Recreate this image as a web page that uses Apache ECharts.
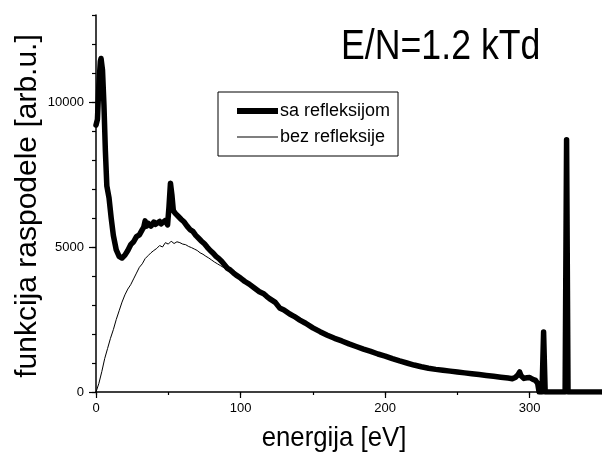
<!DOCTYPE html>
<html>
<head>
<meta charset="utf-8">
<title>funkcija raspodele</title>
<script src="https://cdn.jsdelivr.net/npm/echarts@6/dist/echarts.min.js"></script>
<style>
  html, body { margin: 0; padding: 0; background: #fff; }
  #chart { width: 602px; height: 453px; }
</style>
</head>
<body>
<div id="chart"></div>
<script>
// energija [eV] / counts, sa refleksijom (thick curve)
var energySa = [
  0, 1, 2, 3, 3.5, 4.5, 5.5, 6.5, 7.5, 9,
  10.5, 12, 14, 16, 18, 20, 22, 24, 26, 28,
  30, 32, 33, 34, 35, 36, 37, 38, 40, 41,
  42, 44, 45, 46, 48, 49.5, 50.5, 51.5, 52.5, 53.5,
  55, 57, 58, 59, 61, 63, 64, 65, 67, 69,
  70, 71, 73, 75, 76, 77, 79, 81, 82, 83,
  85, 87, 88, 89, 91, 93, 95, 97, 100, 103,
  106, 110, 113, 116, 117, 118, 120, 124, 127, 130,
  134, 137, 141, 145, 150, 155, 160, 165, 170, 175,
  180, 185, 190, 195, 200, 205, 210, 215, 220, 225,
  230, 235, 240, 245, 250, 255, 260, 265, 270, 275,
  280, 285, 288, 290, 292, 293, 294, 296, 298, 300,
  302, 304, 305.5, 306.5, 308.5, 309.6, 310.7, 324.5, 325.5, 326.5,
  350
];
var countsSa = [
  9200, 9400, 10600, 11400, 11500, 11100, 9900, 8300, 7100, 6700,
  6000, 5400, 4900, 4680, 4620, 4720, 4880, 5080, 5180, 5360,
  5420, 5600, 5680, 5900, 5720, 5820, 5760, 5720, 5860, 5780,
  5840, 5880, 5800, 5860, 5920, 5760, 6400, 7200, 6800, 6250,
  6150, 6050, 6100, 5950, 5860, 5720, 5760, 5600, 5540, 5400,
  5420, 5300, 5200, 5110, 5140, 4990, 4880, 4790, 4820, 4680,
  4600, 4500, 4520, 4380, 4260, 4200, 4110, 4030, 3930, 3810,
  3720, 3570, 3460, 3390, 3350, 3300, 3220, 3090, 2900, 2830,
  2690, 2610, 2480, 2370, 2210, 2080, 1960, 1850, 1760, 1660,
  1570, 1480, 1400, 1310, 1240, 1150, 1070, 1000, 930, 870,
  820, 780, 750, 720, 690, 660, 630, 600, 570, 540,
  510, 480, 460, 500, 600, 690, 560, 470, 490, 500,
  440, 400, 300, 0, 0, 2070, 0, 0, 8700, 0,
  0
];

// bez refleksije (thin curve), low-energy part; above 95 eV it runs under the thick one
var energyBez = [
  0, 2, 4, 6, 8, 10, 12, 14, 16, 18,
  20, 22, 24, 26, 28, 30, 32, 34, 36, 38,
  40, 42, 44, 46, 48, 50, 52, 54, 56, 58,
  60, 62, 64, 66, 68, 70, 72, 74, 76, 78,
  80, 82, 84, 86, 88, 90, 92, 95
];
var countsBez = [
  0, 300, 700, 1150, 1500, 1850, 2150, 2500, 2800, 3100,
  3350, 3550, 3700, 3900, 4100, 4300, 4420, 4600, 4700, 4800,
  4880, 4950, 5050, 5000, 5150, 5100, 5200, 5120, 5180, 5150,
  5100, 5080, 5020, 4980, 4930, 4880, 4800, 4750, 4680, 4620,
  4550, 4480, 4420, 4360, 4300, 4240, 4180, 4100
];

var xTicks = [0, 100, 200, 300];
var yTicks = [0, 5000, 10000];

var FONT = '"Liberation Sans", Arial, sans-serif';

var dataSa = energySa.map(function (e, i) { return [e, countsSa[i]]; });
var dataBez = energyBez.map(function (e, i) { return [e, countsBez[i]]; });
for (var i = 0; i < energySa.length; i++) {
  if (energySa[i] > 95 && energySa[i] <= 304) dataBez.push([energySa[i], countsSa[i]]);
}

var chart = echarts.init(document.getElementById('chart'));
var option = {
  animation: false,
  backgroundColor: '#fff',
  grid: { left: 96, top: 15, width: 507.5, height: 377 },
  legend: {
    data: [
      // stray moveTo points keep the bar at its true thickness inside the 41x18 icon box
      { name: 'sa refleksijom', icon: 'path://M0,0M0,6H41V12H0ZM41,18' },
      { name: 'bez refleksije', icon: 'path://M0,0M0,8.5H41V9.5H0ZM41,18' }
    ],
    orient: 'vertical',
    left: 218,
    top: 92,
    padding: [10, 8, 10, 19],
    itemGap: 8,
    itemWidth: 41,
    itemHeight: 18,
    borderColor: '#000',
    borderWidth: 1,
    itemStyle: { color: '#000' },
    textStyle: { fontFamily: FONT, fontSize: 18, color: '#000', padding: [0, 0, 0, -3] }
  },
  graphic: [
    {
      type: 'text', x: 341, y: 47, scaleX: 0.85,
      style: { text: 'E/N=1.2 kTd', font: '42px ' + FONT, fill: '#000',
               textAlign: 'left', textVerticalAlign: 'middle' }
    },
    {
      type: 'text', x: 334, y: 438, scaleX: 0.92,
      style: { text: 'energija [eV]', font: '28px ' + FONT, fill: '#000',
               textAlign: 'center', textVerticalAlign: 'middle' }
    },
    {
      type: 'text', x: 28, y: 206, rotation: Math.PI / 2,
      style: { text: 'funkcija raspodele [arb.u.]', font: '30px ' + FONT, fill: '#000',
               textAlign: 'center', textVerticalAlign: 'middle' }
    }
  ],
  xAxis: [
    {
      type: 'value', min: 0, max: 350, interval: 100,
      axisLine: { lineStyle: { color: '#000', width: 1.5 } },
      axisTick: { inside: false, length: 6, lineStyle: { color: '#000', width: 1.2 } },
      axisLabel: {
        margin: 10, fontFamily: FONT, fontSize: 13, color: '#000', showMaxLabel: false,
        formatter: function (v) { return xTicks.indexOf(v) >= 0 ? String(v) : ''; }
      },
      splitLine: { show: false }
    },
    {
      type: 'value', min: 0, max: 350, interval: 50, position: 'bottom',
      axisLine: { show: false },
      axisTick: { inside: false, length: 3, lineStyle: { color: '#000', width: 1.2 } },
      axisLabel: { show: false },
      splitLine: { show: false }
    }
  ],
  yAxis: [
    {
      type: 'value', min: 0, max: 13000, interval: 5000,
      axisLine: { show: true, lineStyle: { color: '#000', width: 1.5 } },
      axisTick: { show: true, inside: false, length: 7, lineStyle: { color: '#000', width: 1.2 } },
      axisLabel: {
        margin: 12, fontFamily: FONT, fontSize: 13, color: '#000', showMaxLabel: false,
        formatter: function (v) { return yTicks.indexOf(v) >= 0 ? String(v) : ''; }
      },
      splitLine: { show: false }
    },
    {
      type: 'value', min: 0, max: 13000, interval: 1000, position: 'left',
      axisLine: { show: false },
      axisTick: { show: true, inside: false, length: 4, lineStyle: { color: '#000', width: 1.2 } },
      axisLabel: { show: false },
      splitLine: { show: false }
    }
  ],
  series: [
    {
      name: 'bez refleksije', type: 'line', data: dataBez,
      xAxisIndex: 0, yAxisIndex: 0,
      showSymbol: false, symbol: 'none',
      lineStyle: { color: '#000', width: 1 },
      itemStyle: { color: '#000' }
    },
    {
      name: 'sa refleksijom', type: 'line', data: dataSa,
      xAxisIndex: 0, yAxisIndex: 0,
      showSymbol: false, symbol: 'none',
      lineStyle: { color: '#000', width: 5.5, cap: 'round', join: 'round' },
      itemStyle: { color: '#000' }
    }
  ]
};
chart.setOption(option);
</script>
</body>
</html>
